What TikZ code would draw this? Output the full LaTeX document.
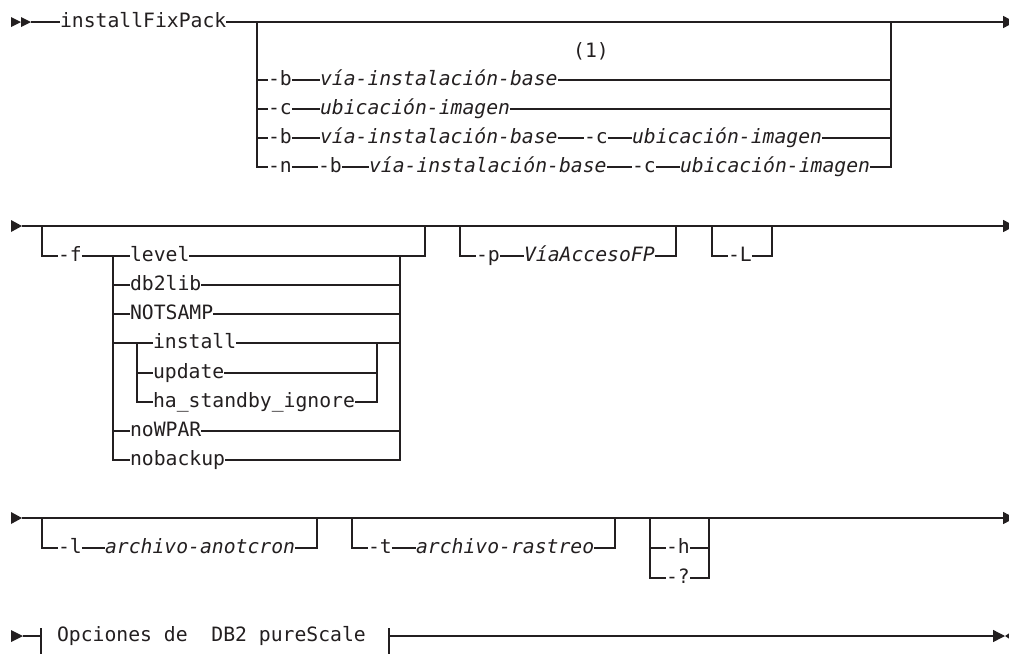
\documentclass[tikz,border=0pt]{standalone}
\usepackage{fontspec}
\setmonofont{DejaVu Sans Mono}
\usetikzlibrary{arrows.meta}
\begin{document}
\begin{tikzpicture}[x=.75pt,y=-.75pt,
  kw/.style={inner sep=0pt,outer sep=0pt,anchor=west,text height=8pt,text depth=0pt,text={rgb,255:red,35;green,31;blue,32},font=\ttfamily\fontsize{14.8}{17}\selectfont},
  var/.style={kw,font=\ttfamily\itshape\fontsize{14.8}{17}\selectfont},
  wire/.style={draw={rgb,255:red,35;green,31;blue,32},line width=1pt},
  tip/.style={fill={rgb,255:red,35;green,31;blue,32}},
  endarrow/.style={wire,-{Triangle[length=9pt,width=9pt]}}]
\path[use as bounding box] (0,0) rectangle (1009,653);
\path[fill=white,draw=none] (0,0) rectangle (1009,653);
\fill[tip] (11,17) -- (21,22) -- (11,27) -- cycle;
\fill[tip] (21,17) -- (31,22) -- (21,27) -- cycle;
\coordinate (s1) at (31,22);
\coordinate (e1) at (1015,22);
\node[kw] (cmd) at (60,22) {installFixPack};
\draw[wire] (s1) -- (cmd.west);
\draw[endarrow] (cmd.east) -- (e1);
\coordinate (g1l) at (257,22);
\coordinate (g1r) at (891,22);
\node[kw,anchor=center] (note1) at (591,52) {(1)};
\node[kw] (b1) at (268,80) {-b};
\node[var] (b1v) at (320,80) {vía-instalación-base};
\node[kw] (c2) at (268,109) {-c};
\node[var] (c2v) at (320,109) {ubicación-imagen};
\node[kw] (b3) at (268,138) {-b};
\node[var] (b3v) at (320,138) {vía-instalación-base};
\node[kw] (c3) at (584,138) {-c};
\node[var] (c3v) at (632,138) {ubicación-imagen};
\node[kw] (n4) at (268,167) {-n};
\node[kw] (b4) at (318,167) {-b};
\node[var] (b4v) at (369,167) {vía-instalación-base};
\node[kw] (c4) at (632,167) {-c};
\node[var] (c4v) at (680,167) {ubicación-imagen};
\draw[wire] (g1l) |- (n4.west);
\draw[wire] (g1l |- b1.west) -- (b1.west);
\draw[wire] (g1l |- c2.west) -- (c2.west);
\draw[wire] (g1l |- b3.west) -- (b3.west);
\draw[wire] (b1.east) -- (b1v.west);
\draw[wire] (c2.east) -- (c2v.west);
\draw[wire] (b3.east) -- (b3v.west);
\draw[wire] (b3v.east) -- (c3.west);
\draw[wire] (c3.east) -- (c3v.west);
\draw[wire] (n4.east) -- (b4.west);
\draw[wire] (b4.east) -- (b4v.west);
\draw[wire] (b4v.east) -- (c4.west);
\draw[wire] (c4.east) -- (c4v.west);
\draw[wire] (b1v.east) -- (g1r |- b1v.east);
\draw[wire] (c2v.east) -- (g1r |- c2v.east);
\draw[wire] (c3v.east) -- (g1r |- c3v.east);
\draw[wire] (c4v.east) -| (g1r);
\fill[tip] (11,220) -- (22,226) -- (11,232) -- cycle;
\coordinate (s2) at (22,226);
\coordinate (e2) at (1015,226);
\draw[endarrow] (s2) -- (e2);
\coordinate (f0) at (42,226);
\coordinate (f9) at (425,226);
\coordinate (fl) at (113,256);
\coordinate (fr) at (400,256);
\coordinate (il) at (137,343);
\coordinate (ir) at (377,343);
\node[kw] (f) at (58,256) {-f};
\node[kw] (lvl) at (130,256) {level};
\node[kw] (lib) at (130,285) {db2lib};
\node[kw] (nts) at (130,314) {NOTSAMP};
\node[kw] (ins) at (153,343) {install};
\node[kw] (upd) at (153,373) {update};
\node[kw] (hsi) at (153,402) {ha\_standby\_ignore};
\node[kw] (wpar) at (130,431) {noWPAR};
\node[kw] (bkp) at (130,460) {nobackup};
\draw[wire] (f0) |- (f.west);
\draw[wire] (f.east) -- (lvl.west);
\draw[wire] (lvl.east) -| (f9);
\draw[wire] (fl) |- (bkp.west);
\draw[wire] (fl |- lib.west) -- (lib.west);
\draw[wire] (fl |- nts.west) -- (nts.west);
\draw[wire] (fl |- ins.west) -- (ins.west);
\draw[wire] (fl |- wpar.west) -- (wpar.west);
\draw[wire] (lib.east) -- (fr |- lib.east);
\draw[wire] (nts.east) -- (fr |- nts.east);
\draw[wire] (ins.east) -- (fr |- ins.east);
\draw[wire] (wpar.east) -- (fr |- wpar.east);
\draw[wire] (bkp.east) -| (fr);
\draw[wire] (il) |- (hsi.west);
\draw[wire] (il |- upd.west) -- (upd.west);
\draw[wire] (upd.east) -- (ir |- upd.east);
\draw[wire] (hsi.east) -| (ir);
\coordinate (p0) at (460,226);
\coordinate (p9) at (676,226);
\node[kw] (p) at (476,256) {-p};
\node[var] (pv) at (524,256) {VíaAccesoFP};
\draw[wire] (p0) |- (p.west);
\draw[wire] (p.east) -- (pv.west);
\draw[wire] (pv.east) -| (p9);
\coordinate (L0) at (712,226);
\coordinate (L9) at (772,226);
\node[kw] (L) at (728,256) {-L};
\draw[wire] (L0) |- (L.west);
\draw[wire] (L.east) -| (L9);
\fill[tip] (11,512) -- (22,518) -- (11,524) -- cycle;
\coordinate (s3) at (22,518);
\coordinate (e3) at (1015,518);
\draw[endarrow] (s3) -- (e3);
\coordinate (l0) at (42,518);
\coordinate (l9) at (317,518);
\node[kw] (l) at (58,548) {-l};
\node[var] (lv) at (105,548) {archivo-anotcron};
\draw[wire] (l0) |- (l.west);
\draw[wire] (l.east) -- (lv.west);
\draw[wire] (lv.east) -| (l9);
\coordinate (t0) at (352,518);
\coordinate (t9) at (615,518);
\node[kw] (t) at (368,548) {-t};
\node[var] (tv) at (416,548) {archivo-rastreo};
\draw[wire] (t0) |- (t.west);
\draw[wire] (t.east) -- (tv.west);
\draw[wire] (tv.east) -| (t9);
\coordinate (h0) at (650,518);
\coordinate (h9) at (709,518);
\node[kw] (h) at (666,548) {-h};
\node[kw] (q) at (666,578) {-?};
\draw[wire] (h0) |- (q.west);
\draw[wire] (h0 |- h.west) -- (h.west);
\draw[wire] (h.east) -- (h9 |- h.east);
\draw[wire] (q.east) -| (h9);
\fill[tip] (11,630) -- (23,636) -- (11,642) -- cycle;
\coordinate (s4) at (23,636);
\coordinate (fl4) at (41,636);
\coordinate (fr4) at (389,636);
\coordinate (e4) at (1005,636);
\node[kw] (frag) at (57,636) {Opciones de~~DB2 pureScale};
\draw[wire] (s4) -- (fl4);
\draw[wire] (41,628) -- (41,656);
\draw[wire] (389,628) -- (389,656);
\draw[endarrow] (fr4) -- (e4);
\fill[tip] (1014,630) -- (1005,636) -- (1014,642) -- cycle;
\end{tikzpicture}
\end{document}
